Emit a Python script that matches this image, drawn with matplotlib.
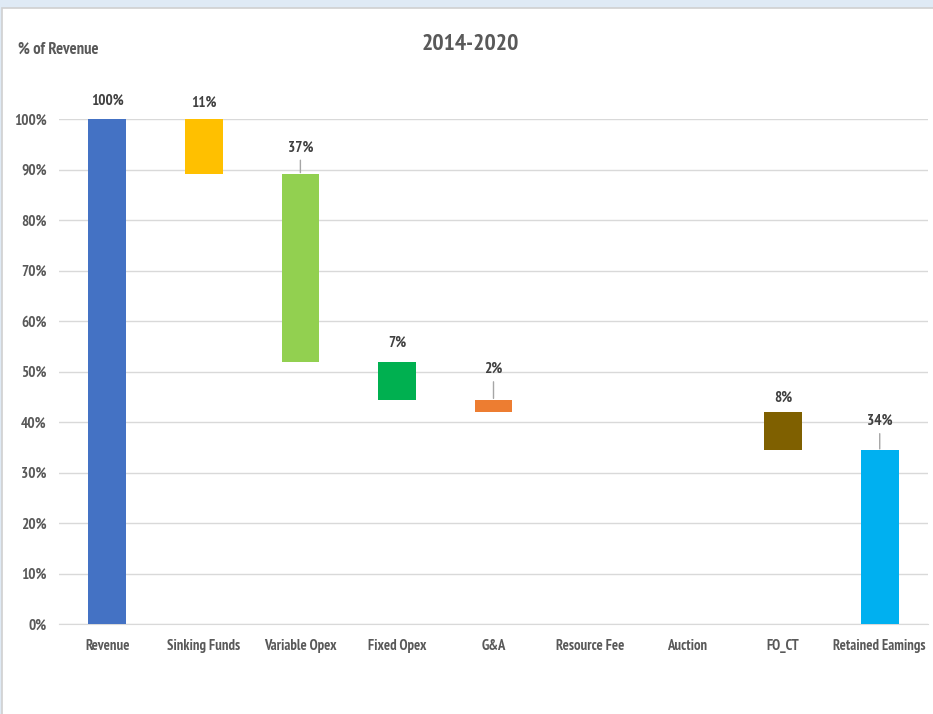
import matplotlib.pyplot as plt
from matplotlib.patches import Rectangle

# waterfall data (% of revenue)
categories = ['Revenue', 'Sinking Funds', 'Variable Opex', 'Fixed Opex', 'G&A',
              'Resource Fee', 'Auction', 'FO_CT', 'Retained Eamings']
values = [100, 10.9, 37.3, 7.4, 2.4, 0, 0, 7.6, 34.4]
labels = ['100%', '11%', '37%', '7%', '2%', '', '', '8%', '34%']
colors = ['#4472c4', '#ffc000', '#92d050', '#00b050', '#ed7d31',
          '#a5a5a5', '#a5a5a5', '#7f6000', '#00b0f0']

# label offsets above bar tops (points) and whether a leader line is drawn
label_offsets = [13, 12, 19, 14, 22, 0, 0, 10, 21]
leaders = [False, False, True, False, True, False, False, False, True]

plt.rcParams['font.family'] = ['PT Sans Narrow', 'DejaVu Sans']

fig = plt.figure(figsize=(9.33, 7.14), dpi=100)
fig.patch.set_facecolor('#dfeaf5')
fig.patches.append(Rectangle((2 / 933, -0.01), 1, 1.01 - 8 / 714, transform=fig.transFigure,
                             facecolor='white', edgecolor='#d0d0d0', lw=1.2, zorder=-10))

ax = fig.add_axes([59 / 933, 90 / 714, 869 / 933, 505 / 714])
ax.set_facecolor('none')
ax.set_zorder(5)

# compute bottoms
bottoms = []
level = 100
for i, v in enumerate(values):
    if i == 0 or i == len(values) - 1:
        bottoms.append(0)
    else:
        level -= v
        bottoms.append(level)

x = list(range(len(categories)))
ax.bar(x, values, bottom=bottoms, width=0.39, color=colors, zorder=3)

for i, v in enumerate(values):
    if not labels[i]:
        continue
    top = bottoms[i] + v
    props = None
    if leaders[i]:
        props = dict(arrowstyle='-', color='#a6a6a6', lw=1, shrinkA=2, shrinkB=1)
    ax.annotate(labels[i], xy=(i, top), xytext=(0, label_offsets[i]),
                textcoords='offset points', ha='center', va='center',
                fontsize=11, fontweight='bold', color='#404040',
                annotation_clip=False, arrowprops=props)

ax.set_xlim(-0.5, len(categories) - 0.5)
ax.set_ylim(0, 100)
ax.set_yticks(range(0, 101, 10))
ax.set_yticklabels([f'{t}%' for t in range(0, 101, 10)])
ax.set_xticks(x)
ax.set_xticklabels(categories)
ax.yaxis.grid(True, color='#d9d9d9', lw=1, zorder=0)
ax.set_axisbelow(True)
for s in ['top', 'right', 'left']:
    ax.spines[s].set_visible(False)
ax.spines['bottom'].set_color('#d9d9d9')
ax.tick_params(axis='both', length=0, labelcolor='#595959', labelsize=11)
ax.tick_params(axis='x', pad=11, labelsize=10.5)
ax.tick_params(axis='y', pad=9)
for lbl in ax.get_xticklabels() + ax.get_yticklabels():
    lbl.set_fontweight('bold')

fig.text(470 / 933, 1 - 44 / 714, '2014-2020', ha='center', va='center',
         fontsize=17, fontweight='bold', color='#595959')
fig.text(18 / 933, 1 - 50 / 714, '% of Revenue', ha='left', va='center',
         fontsize=12, fontweight='bold', color='#595959')

fig.savefig('out.png', dpi=100, facecolor=fig.get_facecolor())
